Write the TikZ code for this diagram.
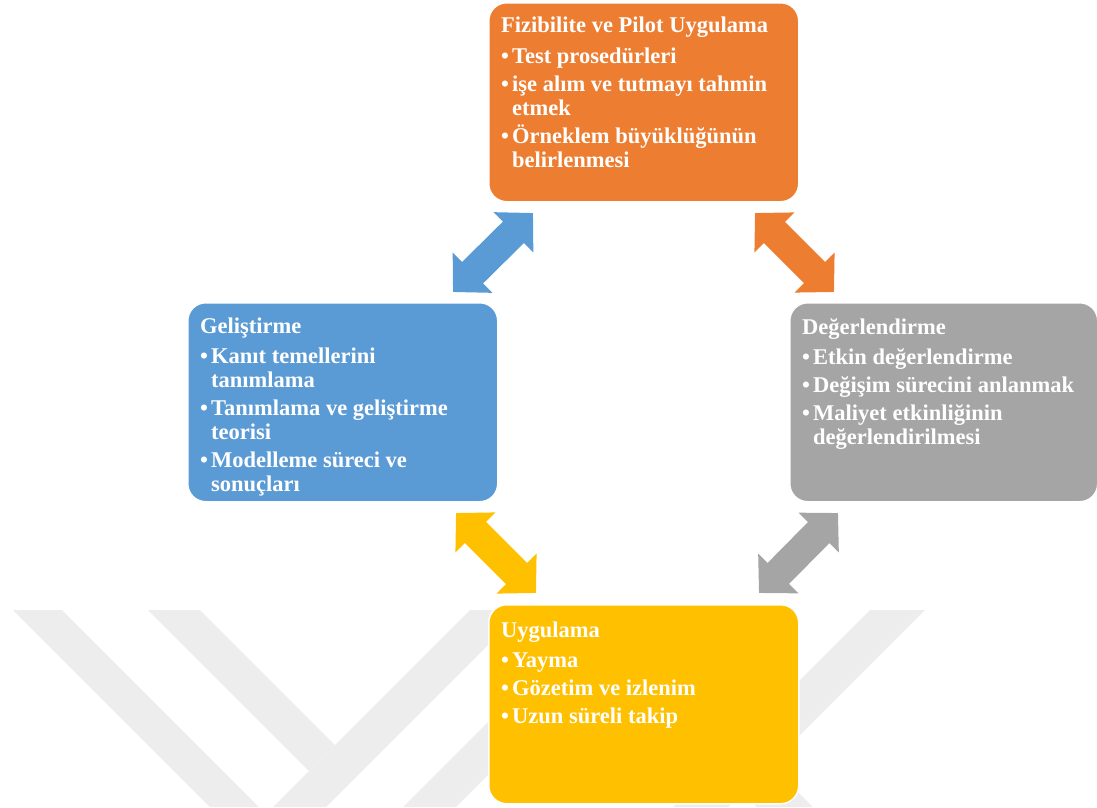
\documentclass[tikz,border=0pt]{standalone}
\usepackage{fontspec}
\setmainfont{Liberation Serif}
\usetikzlibrary{arrows.meta}
\definecolor{ktturuncu}{HTML}{ED7D31}
\definecolor{ktmavi}{HTML}{5B9BD5}
\definecolor{ktgri}{HTML}{A5A5A5}
\definecolor{ktsari}{HTML}{FFC000}
\newcommand{\bul}[1]{\makebox[11pt][l]{\textbullet}#1}
\newcommand{\dvm}{\hspace*{11pt}}

\begin{document}
\begin{tikzpicture}[x=1pt,y=-1pt,
	filigran/.style={fill=black!7},
	kutu/.style={draw=white,line width=1.5pt,rounded corners=18pt,anchor=north west,minimum width=310pt,minimum height=199pt,inner sep=0pt},
	yazi/.style={anchor=north west,inner sep=0pt,text=white,align=left,font=\fontsize{22.5}{24}\selectfont\bfseries},
	cift/.style={line width=30pt,{Triangle[length=27.5pt,width=55pt]}-{Triangle[length=27.5pt,width=55pt]}}]
	\useasboundingbox (0,0) rectangle (1097,807);
	\fill[filigran] (13,610) -- (62,610) -- (259,807) -- (210,807) -- cycle;
	\fill[filigran] (148,610) -- (200,610) -- (335,745) -- (309,771) -- cycle;
	\fill[filigran] (470,610) -- (523,610) -- (326,807) -- (273,807) -- cycle;
	\fill[filigran] (600,610) -- (653,610) -- (456,807) -- (403,807) -- cycle;
	\fill[filigran] (870,610) -- (925,610) -- (728,807) -- (673,807) -- cycle;
	\fill[filigran] (560,610) -- (616,610) -- (813,807) -- (757,807) -- cycle;
	\node[kutu,fill=ktturuncu] (fiz) at (488,2) {};
	\node[kutu,fill=ktmavi] (gel) at (187,302) {};
	\node[kutu,fill=ktgri,minimum width=308pt] (deg) at (789,302) {};
	\node[kutu,fill=ktsari] (uyg) at (488,604) {};
	\node[yazi] (fizyazi) at ([shift={(13,15)}]fiz.north west) {Fizibilite ve Pilot Uygulama\\[7pt]
		\bul{Test prosedürleri}\\[4pt]
		\bul{işe alım ve tutmayı tahmin}\\
		\dvm etmek\\[4pt]
		\bul{Örneklem büyüklüğünün}\\
		\dvm belirlenmesi};
	\node[yazi] (gelyazi) at ([shift={(13,16)}]gel.north west) {Geliştirme\\[6pt]
		\bul{Kanıt temellerini}\\
		\dvm tanımlama\\[4pt]
		\bul{Tanımlama ve geliştirme}\\
		\dvm teorisi\\[4pt]
		\bul{Modelleme süreci ve}\\
		\dvm sonuçları};
	\node[yazi] (degyazi) at ([shift={(13,16)}]deg.north west) {Değerlendirme\\[6pt]
		\bul{Etkin değerlendirme}\\[4pt]
		\bul{Değişim sürecini anlanmak}\\[4pt]
		\bul{Maliyet etkinliğinin}\\
		\dvm değerlendirilmesi};
	\node[yazi] (uygyazi) at ([shift={(13,18)}]uyg.north west) {Uygulama\\[6pt]
		\bul{Yayma}\\[4pt]
		\bul{Gözetim ve izlenim}\\[4pt]
		\bul{Uzun süreli takip}};
	\coordinate (mavi1) at (453,292);
	\coordinate (mavi2) at (533,213);
	\coordinate (turuncu1) at (755,213);
	\coordinate (turuncu2) at (834,292);
	\coordinate (sari1) at (456,513);
	\coordinate (sari2) at (536,593);
	\coordinate (gri1) at (838,513);
	\coordinate (gri2) at (759,593);
	\draw[cift,ktmavi] (mavi1) -- (mavi2);
	\draw[cift,ktturuncu] (turuncu1) -- (turuncu2);
	\draw[cift,ktsari] (sari1) -- (sari2);
	\draw[cift,ktgri] (gri1) -- (gri2);
\end{tikzpicture}
\end{document}
